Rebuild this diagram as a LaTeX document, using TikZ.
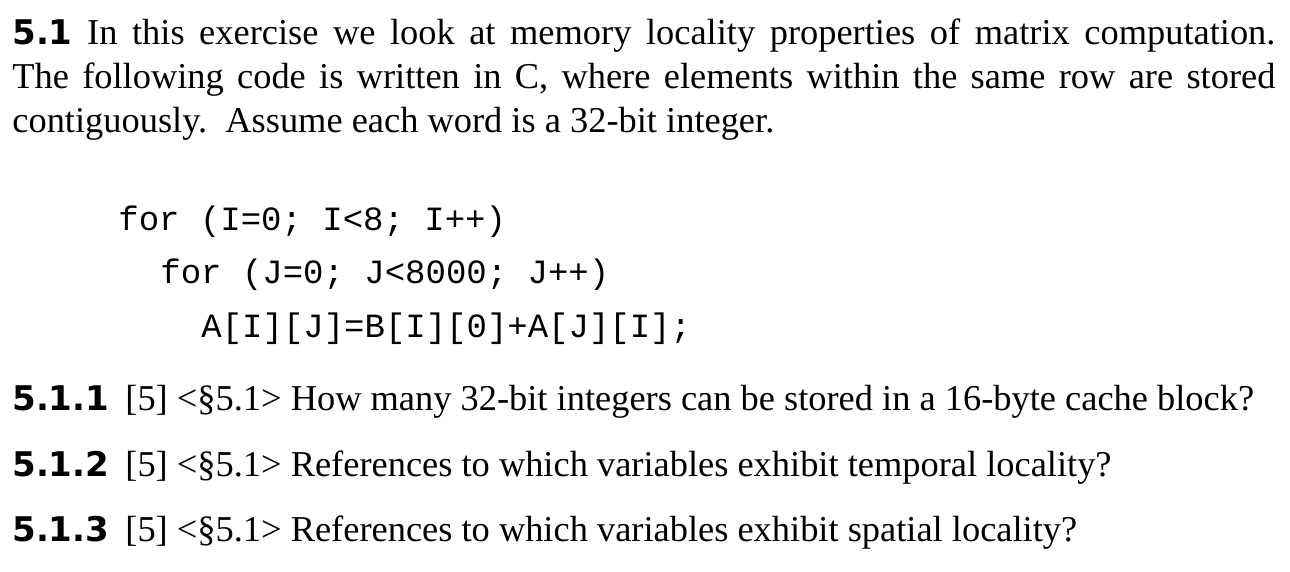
\documentclass[tikz,border=0pt]{standalone}
\usepackage{fontspec}
\setmainfont{Liberation Serif}
\newfontfamily\numfont{DejaVu Sans}
\setmonofont{Liberation Mono}
\tikzset{txt/.style={anchor=base west,inner sep=0pt,font=\fontsize{18.2pt}{22pt}\selectfont},
code/.style={anchor=base west,inner sep=0pt,font=\fontsize{17pt}{22pt}\ttfamily},
}
\newcommand{\qnum}[1]{{\numfont\bfseries\fontsize{17pt}{22pt}\selectfont #1}}
\begin{document}
\begin{tikzpicture}[x=0.5pt,y=-0.5pt]
\useasboundingbox (0,0) rectangle (1290,572);
\node[txt] (l1) at (12,45) {\hbox to 631.5pt{\qnum{5.1} In this exercise we look at memory locality properties of matrix computation.}};
\node[txt] (l2) at (12,89) {\hbox to 631.5pt{The following code is written in C, where elements within the same row are stored}};
\node[txt] (l3) at (12,133) {contiguously.\ \ Assume each word is a 32-bit integer.};
\node[code] (c1) at (118,231) {for (I=0; I<8; I++)};
\node[code] (c2) at (160,284) {for (J=0; J<8000; J++)};
\node[code] (c3) at (201,337) {A[I][J]=B[I][0]+A[J][I];};
\node[txt] (q1) at (12,410) {\qnum{5.1.1}};
\node[txt] (q1t) at (125,410) {[5] <\S5.1> How many 32-bit integers can be stored in a 16-byte cache block?};
\node[txt] (q2) at (12,476) {\qnum{5.1.2}};
\node[txt] (q2t) at (125,476) {[5] <\S5.1> References to which variables exhibit temporal locality?};
\node[txt] (q3) at (12,541) {\qnum{5.1.3}};
\node[txt] (q3t) at (125,541) {[5] <\S5.1> References to which variables exhibit spatial locality?};
\end{tikzpicture}
\end{document}
